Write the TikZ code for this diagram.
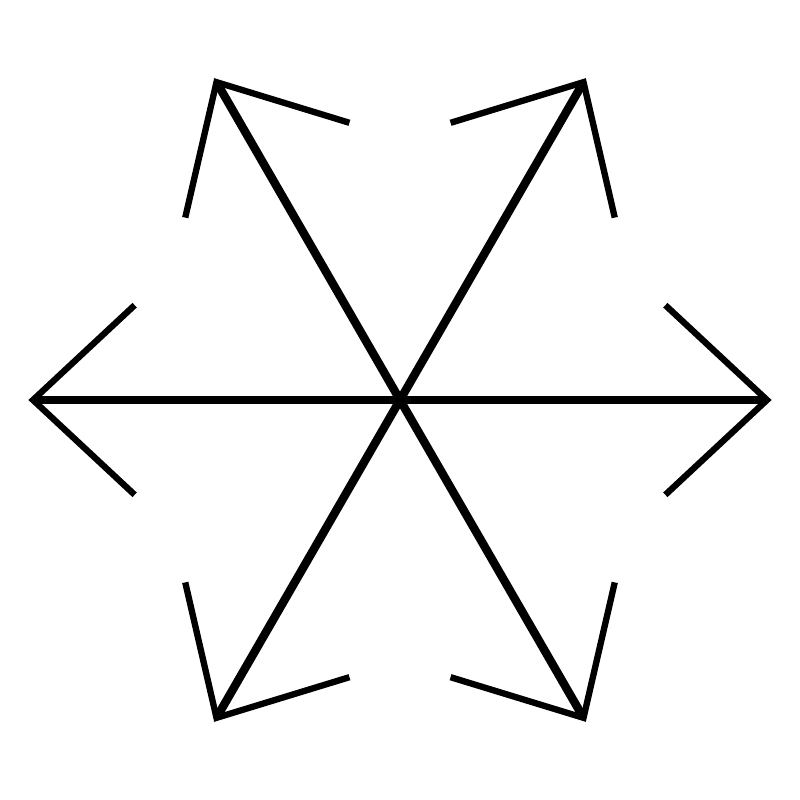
\documentclass[tikz,border=0pt]{standalone}
\usepackage{tikz}
\tikzset{shaft/.style={line width=2.4pt}, barb/.style={line width=1.8pt, line join=miter}}

\begin{document}
\begin{tikzpicture}
\useasboundingbox (-4,-4) rectangle (4,4);
\coordinate (c) at (0,0);
\foreach \a/\n in {0/e, 60/ne, 120/nw, 180/w, 240/sw, 300/se} {
  \coordinate (\n) at (\a:3.67);
  \coordinate (\n-l) at ([shift={(\a+137:1.39)}]\n);
  \coordinate (\n-r) at ([shift={(\a-137:1.39)}]\n);
  \draw [shaft] (c) -- (\n);
  \draw [barb] (\n-l) -- (\n) -- (\n-r);
}
\end{tikzpicture}
\end{document}
